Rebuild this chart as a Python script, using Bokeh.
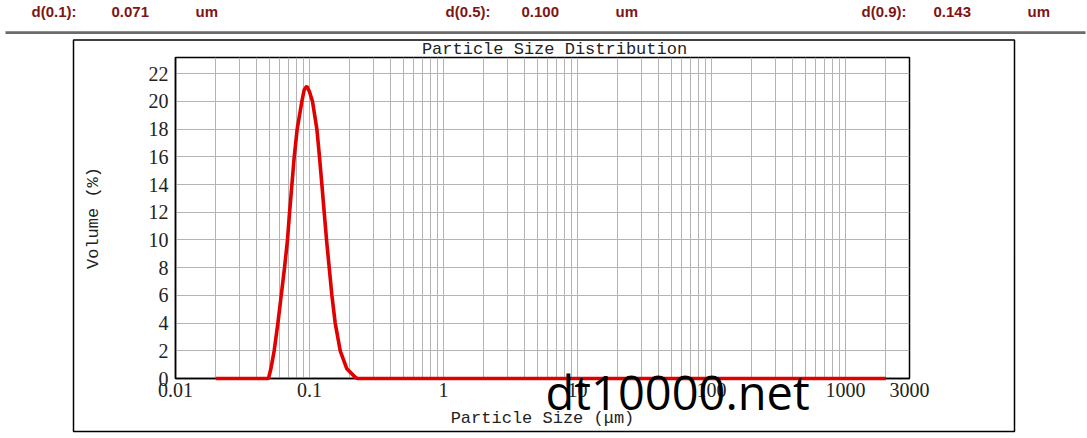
from bokeh.plotting import figure
from bokeh.layouts import column
from bokeh.models import FixedTicker, CustomJSTickFormatter, Label, BoxAnnotation, Range1d
from bokeh.embed import file_html
from bokeh.resources import INLINE

# ---- data ----
sizes = [0.02, 0.0494, 0.0515, 0.0545, 0.0581, 0.0615, 0.0651, 0.0685, 0.0710,
         0.0739, 0.0769, 0.0809, 0.0877, 0.0913, 0.0956, 0.1000, 0.1053, 0.1135,
         0.1187, 0.1237, 0.1287, 0.1340, 0.1403, 0.1469, 0.1555, 0.1695, 0.1900,
         0.2190, 0.2280, 2000]
volume = [0.0, 0.0, 0.7, 2.0, 4.0, 6.0, 8.0, 10.0, 12.0,
          14.0, 16.0, 18.0, 20.0, 20.85, 21.1, 20.7, 20.0, 18.0,
          16.0, 14.0, 12.0, 10.0, 8.0, 6.0, 4.0, 2.0, 0.7,
          0.1, 0.0, 0.0]

x_ticks = [0.01, 0.1, 1, 10, 100, 1000, 3000]
x_tick_labels = ["0.01", "0.1", "1", "10", "100", "1000", "3000"]
y_ticks = [0, 2, 4, 6, 8, 10, 12, 14, 16, 18, 20, 22]

header_names = ["d(0.1):", "d(0.5):", "d(0.9):"]
header_values = ["0.071", "0.100", "0.143"]
header_units = ["um", "um", "um"]

title_text = "Particle Size Distribution"
x_label_text = "Particle Size (\u03bcm)"
y_label_text = "Volume (%)"
watermark = "dt10000.net"

W, H = 1087, 438

# ---- chart figure ----
p = figure(width=W, height=H, x_axis_type="log", x_range=(0.01, 3000), y_range=(0, 23.17),
           output_backend="svg", toolbar_location=None, title=None,
           min_border_left=175, min_border_right=178, min_border_top=57, min_border_bottom=60)
p.frame_align = False
p.background_fill_color = "white"
p.border_fill_color = "white"
p.outline_line_color = "black"
p.outline_line_width = 1.5

minor_x = []
for e in range(-2, 4):
    for k in range(2, 10):
        v = k * 10 ** e
        if v < 3000:
            minor_x.append(v)

p.xaxis.ticker = FixedTicker(ticks=x_ticks, minor_ticks=minor_x)
p.xaxis.formatter = CustomJSTickFormatter(
    args=dict(vals=x_ticks, labs=x_tick_labels),
    code="""
    for (let i = 0; i < vals.length; i++) {
        if (Math.abs(Math.log10(tick) - Math.log10(vals[i])) < 1e-6) return labs[i];
    }
    return "";
    """)
p.yaxis.ticker = FixedTicker(ticks=y_ticks)

for ax in (p.xaxis[0], p.yaxis[0]):
    ax.major_tick_in = 0
    ax.major_tick_out = 0
    ax.minor_tick_in = 0
    ax.minor_tick_out = 0
    ax.axis_line_color = "black"
    ax.axis_line_width = 1.5
    ax.major_label_text_font = "Liberation Serif"
    ax.major_label_text_font_size = "20px"
    ax.major_label_text_color = "#222222"
    ax.axis_label_text_font = "Liberation Mono"
    ax.axis_label_text_font_size = "17px"
    ax.axis_label_text_font_style = "normal"
    ax.axis_label_text_color = "#222222"
p.xaxis.major_label_standoff = 4
p.yaxis.major_label_standoff = 7
p.xaxis.axis_label = x_label_text
p.yaxis.axis_label = y_label_text
p.xaxis.axis_label_standoff = 9
p.yaxis.axis_label_standoff = 43

p.xgrid.ticker = FixedTicker(ticks=x_ticks, minor_ticks=minor_x)
p.xgrid.grid_line_color = "#b4b4b4"
p.xgrid.minor_grid_line_color = "#b4b4b4"
p.ygrid.ticker = FixedTicker(ticks=y_ticks)
p.ygrid.grid_line_color = "#b4b4b4"

p.line(sizes, volume, line_color="#e00000", line_width=3.6, level="overlay")

# ---- overlay figure holding page decorations (pixel coordinates) ----
o = figure(width=W, height=H, x_range=Range1d(0, W), y_range=Range1d(H, 0),
           output_backend="svg", toolbar_location=None, title=None,
           x_axis_location=None, y_axis_location=None, min_border=0)
o.frame_align = False
o.background_fill_alpha = 0
o.border_fill_alpha = 0
o.outline_line_color = None
o.grid.visible = False
o.xgrid.grid_line_color = None
o.ygrid.grid_line_color = None
o.margin = (-H, 0, 0, 0)

o.add_layout(BoxAnnotation(left=5, right=1085, top=30.8, bottom=33.6,
                           fill_color="#6b6b6b", fill_alpha=1, line_alpha=0))
o.add_layout(BoxAnnotation(left=73, right=1014, top=39.5, bottom=431,
                           fill_alpha=0, line_color="black", line_alpha=1, line_width=1.5))

hdr = dict(text_font="Liberation Sans", text_font_style="bold", text_font_size="15px",
           text_color="#801414", text_baseline="middle", text_align="left")
name_x = [31, 445, 861]
val_x = [111, 521, 933]
unit_x = [195, 615, 1027]
for i in range(3):
    o.add_layout(Label(x=name_x[i], y=11, text=header_names[i], **hdr))
    o.add_layout(Label(x=val_x[i], y=11, text=header_values[i], **hdr))
    o.add_layout(Label(x=unit_x[i], y=11, text=header_units[i], **hdr))

o.add_layout(Label(x=554, y=49, text=title_text, text_font="Liberation Mono",
                   text_font_size="17px", text_color="#222222",
                   text_align="center", text_baseline="middle"))
o.add_layout(Label(x=545, y=391, text=watermark, text_font="Open Sans",
                   text_font_size="47px", text_color="black",
                   text_align="left", text_baseline="middle"))

layout = column(p, o)
open("out.html", "w").write(file_html(layout, INLINE))
